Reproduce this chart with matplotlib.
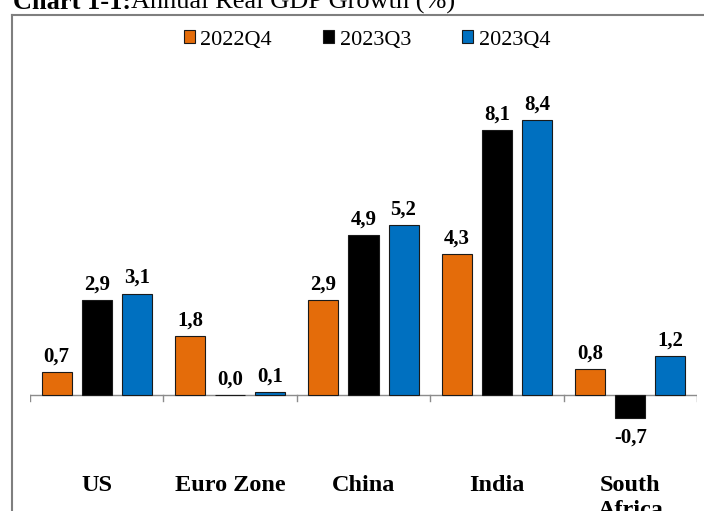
import matplotlib
matplotlib.use("Agg")
import matplotlib.pyplot as plt
from matplotlib.lines import Line2D
import numpy as np

categories = ["US", "Euro Zone", "China", "India", "South\nAfrica"]
series_names = ["2022Q4", "2023Q3", "2023Q4"]
q4_2022 = [0.7, 1.8, 2.9, 4.3, 0.8]
q3_2023 = [2.9, 0.0, 4.9, 8.1, -0.7]
q4_2023 = [3.1, 0.1, 5.2, 8.4, 1.2]
colors = ["#E46C0A", "#000000", "#0070C0"]

W, H = 704, 511
fig = plt.figure(figsize=(W / 100, H / 100), dpi=100)
plt.rcParams['font.family'] = ['Liberation Serif', 'DejaVu Serif']

ax = fig.add_axes([30 / W, 0, 667 / W, (H - 17) / H])
ax.set_xlim(-0.5, 4.5)
px_per_unit = 32.7
ax.set_ylim(-(H - 395) / px_per_unit, (395 - 17) / px_per_unit)
ax.axis('off')

x = np.arange(len(categories))
width = 0.225
offset = 0.3
all_series = [q4_2022, q3_2023, q4_2023]
handles = []
for i, (vals, col, name) in enumerate(zip(all_series, colors, series_names)):
    pos = x + (i - 1) * offset
    b = ax.bar(pos, vals, width=width, color=col, edgecolor='#1a1a1a',
               linewidth=0.8, label=name, zorder=3)
    handles.append(b)
    for xp, v in zip(pos, vals):
        txt = f"{v:.1f}".replace('.', ',')
        if v < 0:
            ax.annotate(txt, (xp, v), xytext=(0, -7), textcoords='offset points',
                        ha='center', va='top', fontsize=15, fontweight='bold')
        else:
            ax.annotate(txt, (xp, v), xytext=(0, 4), textcoords='offset points',
                        ha='center', va='bottom', fontsize=15, fontweight='bold')

# axis line and ticks
ax.axhline(0, color='#8c8c8c', linewidth=1.0, zorder=2)
tick_len = 6 / px_per_unit
for b in np.arange(-0.5, 5.0, 1.0):
    ax.plot([b, b], [0, -tick_len], color='#8c8c8c', linewidth=1.0, zorder=2)

# category labels (one text per line)
for xi, cat in zip(x, categories):
    for k, line in enumerate(cat.split("\n")):
        ax.text(xi, -(491 + 25 * k - 395) / px_per_unit, line, ha='center',
                va='baseline', fontsize=17.5, fontweight='bold')

# legend
leg = fig.legend(handles=handles, labels=series_names, loc='center',
                 bbox_to_anchor=(367 / W, 1 - 40 / H), ncol=3, frameon=False,
                 fontsize=16, handlelength=0.5, handleheight=0.5,
                 handletextpad=0.25, columnspacing=2.3, borderpad=0)

# frame
fig.add_artist(Line2D([12 / W, 12 / W], [1 - 15 / H, 0], transform=fig.transFigure,
                      color='#7f7f7f', linewidth=1.5))
fig.add_artist(Line2D([12 / W, 1], [1 - 15 / H, 1 - 15 / H], transform=fig.transFigure,
                      color='#7f7f7f', linewidth=1.5))

# title (partially cut at top)
t1 = fig.text(13 / W, 1 - 9 / H, "Chart 1-1:", fontsize=19, fontweight='bold',
              ha='left', va='baseline')
fig.canvas.draw()
bb = t1.get_window_extent(renderer=fig.canvas.get_renderer())
fig.text(bb.x1 / W, 1 - 9 / H, "Annual Real GDP Growth (%)", fontsize=19,
         ha='left', va='baseline')

fig.savefig("out.png", dpi=100)
